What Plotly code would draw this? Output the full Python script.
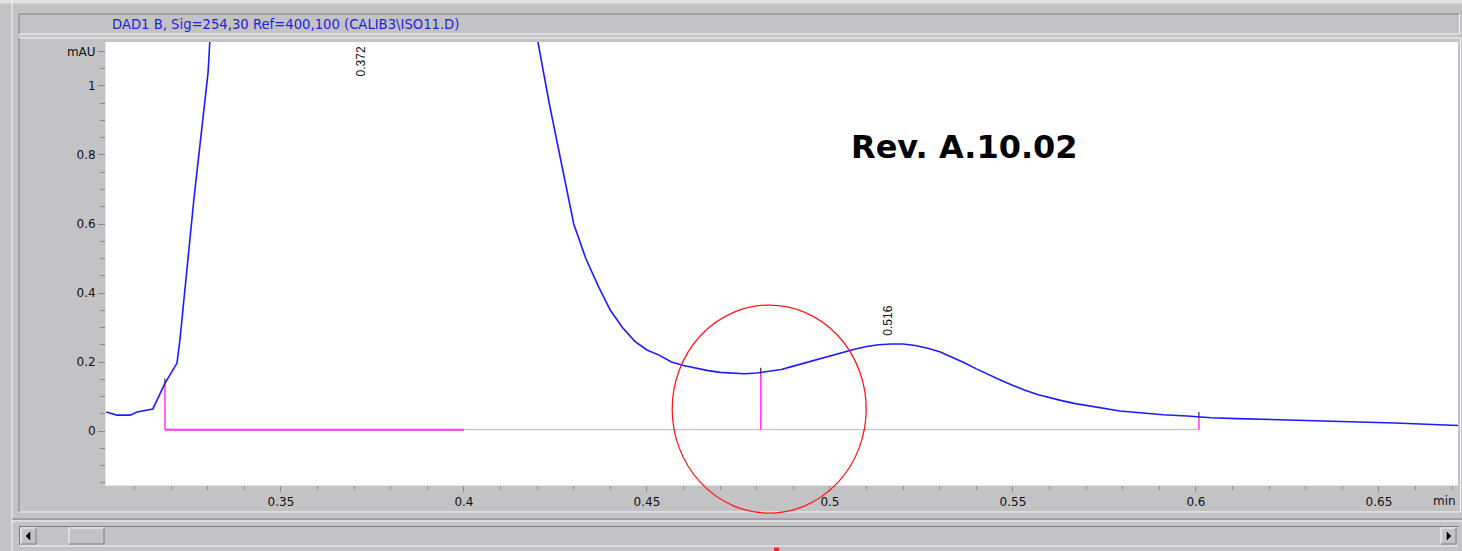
import numpy as np
import plotly.graph_objects as go

# ---------------- data ----------------
time_min = [0.3022, 0.3052, 0.3088, 0.3107, 0.3150, 0.3183, 0.3216, 0.3224, 0.3262, 0.3301,
            0.3312, 0.3350, 0.3400, 0.3500, 0.3600, 0.3720, 0.3850, 0.3950, 0.4050, 0.4100,
            0.4150, 0.4200, 0.4233, 0.4267, 0.4300, 0.4333, 0.4367, 0.4400, 0.4433, 0.4467,
            0.4500, 0.4533, 0.4567, 0.4600, 0.4633, 0.4667, 0.4700, 0.4733, 0.4767, 0.4800,
            0.4833, 0.4867, 0.4900, 0.4933, 0.4967, 0.5000, 0.5033, 0.5067, 0.5100, 0.5133,
            0.5167, 0.5200, 0.5233, 0.5267, 0.5300, 0.5333, 0.5367, 0.5400, 0.5433, 0.5467,
            0.5500, 0.5533, 0.5567, 0.5600, 0.5633, 0.5667, 0.5700, 0.5733, 0.5758, 0.5792,
            0.5855, 0.5910, 0.5976, 0.6041, 0.6112, 0.6284, 0.6421, 0.6544, 0.6639, 0.6716]
signal_mau = [0.055, 0.046, 0.046, 0.055, 0.064, 0.138, 0.197, 0.264, 0.670, 1.040,
              1.250, 3.000, 8.000, 20.00, 32.00, 38.00, 30.00, 18.00, 8.000, 4.500,
              2.000, 1.140, 0.950, 0.770, 0.600, 0.500, 0.420, 0.350, 0.300, 0.260,
              0.235, 0.220, 0.200, 0.190, 0.182, 0.175, 0.170, 0.167, 0.166, 0.168,
              0.172, 0.178, 0.188, 0.198, 0.208, 0.218, 0.228, 0.237, 0.245, 0.250,
              0.252, 0.252, 0.248, 0.240, 0.230, 0.215, 0.198, 0.180, 0.163, 0.147,
              0.132, 0.118, 0.106, 0.096, 0.088, 0.080, 0.074, 0.070, 0.0645, 0.058,
              0.052, 0.047, 0.0435, 0.0386, 0.036, 0.032, 0.027, 0.023, 0.020, 0.016]

peak_rt = [0.372, 0.516]
peak_labels = ["0.372", "0.516"]
event_rt = [0.3183, 0.4811, 0.6008]      # integration start / valley drop / end
baseline_mau = 0.004
baseline_split_rt = 0.400

x_ticks = [0.35, 0.40, 0.45, 0.50, 0.55, 0.60, 0.65]
x_tick_text = ["0.35", "0.4", "0.45", "0.5", "0.55", "0.6", "0.65"]
y_ticks = [0.0, 0.2, 0.4, 0.6, 0.8, 1.0, 1.1]
y_tick_text = ["0", "0.2", "0.4", "0.6", "0.8", "1", "mAU"]

title_text = "DAD1 B, Sig=254,30 Ref=400,100 (CALIB3\\ISO11.D)"
version_text = "Rev. A.10.02"
x_unit = "min"

# highlighted region (red circle) in data units
circle_rt = (0.4569, 0.5099)
circle_mau = (-0.238, 0.365)

# ---------------- layout constants ----------------
W, H = 1462, 551
L, R, T, B = 106, 4, 42, 66
X_RANGE = [0.3022, 0.6716]
Y_RANGE = [-0.1565, 1.1275]
PW, PH = W - L - R, H - T - B

GRAY = "#c3c2c5"
DARK = "#7e7e80"
LIGHT = "#f6f6f6"
BLUE = "#1c1cff"
MAGENTA = "#ff33ff"
FONT = "DejaVu Sans"
LFONT = "Liberation Sans"


def pxx(x):
    return (x - L) / PW


def pyy(y):
    return (H - B - y) / PH


def dx(t):
    return (t - X_RANGE[0]) / (X_RANGE[1] - X_RANGE[0])


def dy(v):
    return (v - Y_RANGE[0]) / (Y_RANGE[1] - Y_RANGE[0])


fig = go.Figure()

# baseline and drop lines
fig.add_trace(go.Scatter(x=[event_rt[0], baseline_split_rt], y=[baseline_mau, baseline_mau],
                         mode="lines", line=dict(color=MAGENTA, width=2), hoverinfo="skip"))
fig.add_trace(go.Scatter(x=[baseline_split_rt, event_rt[-1]], y=[baseline_mau, baseline_mau],
                         mode="lines", line=dict(color="#f29af2", width=1), hoverinfo="skip"))
ev_vals = np.interp(event_rt, time_min, signal_mau)
for t, v in zip(event_rt, ev_vals):
    fig.add_trace(go.Scatter(x=[t, t], y=[baseline_mau, v - 0.004], mode="lines",
                             line=dict(color=MAGENTA, width=1.5), hoverinfo="skip"))

# chromatogram
fig.add_trace(go.Scatter(x=time_min, y=signal_mau, mode="lines",
                         line=dict(color=BLUE, width=1.6), hoverinfo="skip"))

# small black event ticks on the curve
for t, v in zip(event_rt, ev_vals):
    fig.add_trace(go.Scatter(x=[t, t], y=[v - 0.004, v + 0.014], mode="lines",
                             line=dict(color="#303030", width=1.2), hoverinfo="skip"))

annotations = []
# peak labels
apex = np.interp(peak_rt, time_min, signal_mau)
for t, a, lab in zip(peak_rt, apex, peak_labels):
    if a > Y_RANGE[1]:
        annotations.append(dict(x=t, y=Y_RANGE[1], xref="x", yref="y", text=lab, textangle=-90,
                                showarrow=False, xanchor="center", yanchor="top", yshift=-2,
                                font=dict(family=LFONT, size=12, color="#111")))
    else:
        annotations.append(dict(x=t, y=a, xref="x", yref="y", text=lab, textangle=-90,
                                showarrow=False, xanchor="center", yanchor="bottom", yshift=6,
                                font=dict(family=LFONT, size=12, color="#111")))

annotations += [
    dict(x=pxx(110), y=pyy(25), xref="paper", yref="paper", text=title_text, showarrow=False,
         xanchor="left", yanchor="middle", font=dict(family=FONT, size=13.2, color="#2323dc")),
    dict(x=pxx(849), y=pyy(147), xref="paper", yref="paper", text=version_text, showarrow=False,
         xanchor="left", yanchor="middle",
         font=dict(family=FONT, size=32, color="#000", weight="bold")),
    dict(x=pxx(1458), y=pyy(501), xref="paper", yref="paper", text=x_unit, showarrow=False,
         xanchor="right", yanchor="middle", font=dict(family=FONT, size=12, color="#111")),
]

shapes = []


def hline(y, x0, x1, color, w=1):
    shapes.append(dict(type="line", xref="paper", yref="paper", x0=pxx(x0), x1=pxx(x1),
                       y0=pyy(y), y1=pyy(y), line=dict(color=color, width=w)))


def vline(x, y0, y1, color, w=1):
    shapes.append(dict(type="line", xref="paper", yref="paper", x0=pxx(x), x1=pxx(x),
                       y0=pyy(y0), y1=pyy(y1), line=dict(color=color, width=w)))


def raised(x0, y0, x1, y1):
    shapes.append(dict(type="rect", xref="paper", yref="paper", x0=pxx(x0), x1=pxx(x1),
                       y0=pyy(y1), y1=pyy(y0), fillcolor=GRAY, line=dict(width=0)))
    hline(y0, x0, x1, LIGHT)
    vline(x0, y0, y1, LIGHT)
    hline(y1, x0, x1, DARK)
    vline(x1, y0, y1, DARK)


def tri(points):
    path = "M " + " L ".join(f"{pxx(a)},{pyy(b)}" for a, b in points) + " Z"
    shapes.append(dict(type="path", xref="paper", yref="paper", path=path,
                       fillcolor="#000", line=dict(color="#000", width=0.5)))


# window frame
shapes.append(dict(type="rect", xref="paper", yref="paper", x0=pxx(0), x1=pxx(W),
                   y0=pyy(3.5), y1=pyy(0), fillcolor="#e2e2e2", line=dict(width=0)))
vline(12, 0, H, LIGHT)
# title box (sunken)
hline(14, 19, 1459, DARK)
vline(19, 14, 34, DARK)
hline(34, 19, 1459, LIGHT)
vline(1459.5, 14, 34, LIGHT)
# chart panel
hline(38, 19, 1460, LIGHT)
vline(19, 38, 512, DARK)
hline(512, 19, 1460, LIGHT)
vline(1460.5, 38, 512, LIGHT)
# separator
hline(519, 12, W, DARK)
hline(521, 12, W, LIGHT)
# scrollbar
hline(526.5, 19, 1458, DARK)
vline(19.5, 526, 546, DARK)
hline(546, 19, 1458, LIGHT)
raised(21, 528, 36, 544)
raised(69, 528, 104, 544)
raised(1441, 528, 1456, 544)
tri([(26, 536), (30, 532), (30, 540)])
tri([(1451, 536), (1447, 532), (1447, 540)])
shapes.append(dict(type="rect", xref="paper", yref="paper", x0=pxx(774), x1=pxx(779),
                   y0=pyy(551), y1=pyy(547.5), fillcolor="#ff2020", line=dict(width=0)))

# red circle (data units converted to paper so it may extend past the plot area)
shapes.append(dict(type="circle", xref="paper", yref="paper",
                   x0=dx(circle_rt[0]), x1=dx(circle_rt[1]),
                   y0=dy(circle_mau[0]), y1=dy(circle_mau[1]),
                   line=dict(color="#ff1a1a", width=1.3)))

axis_font = dict(family=FONT, size=12, color="#111")
fig.update_layout(
    width=W, height=H,
    margin=dict(l=L, r=R, t=T, b=B, pad=0),
    paper_bgcolor=GRAY, plot_bgcolor="white",
    showlegend=False,
    font=dict(family=FONT),
    annotations=annotations,
    shapes=shapes,
    xaxis=dict(range=X_RANGE, tickmode="array", tickvals=x_ticks, ticktext=x_tick_text,
               ticks="outside", ticklen=6, tickwidth=1, tickcolor="#8c8c8c",
               minor=dict(tickmode="linear", tick0=0.30, dtick=0.01, ticks="outside",
                          ticklen=4, tickcolor="#8c8c8c", showgrid=False),
               showgrid=False, zeroline=False, showline=True, linecolor="#e4e4e4",
               tickfont=axis_font, fixedrange=True),
    yaxis=dict(range=Y_RANGE, tickmode="array", tickvals=y_ticks, ticktext=y_tick_text,
               ticks="outside", ticklen=7, tickwidth=1, tickcolor="#8c8c8c",
               minor=dict(tickmode="linear", tick0=0.0, dtick=0.05, ticks="outside",
                          ticklen=5, tickcolor="#8c8c8c", showgrid=False),
               showgrid=False, zeroline=False, showline=True, linecolor="#e4e4e4",
               tickfont=axis_font, fixedrange=True),
)

fig.write_html("out.html", config={"displayModeBar": False},
               post_script="document.body.style.margin='0';document.body.style.overflow='hidden';")
